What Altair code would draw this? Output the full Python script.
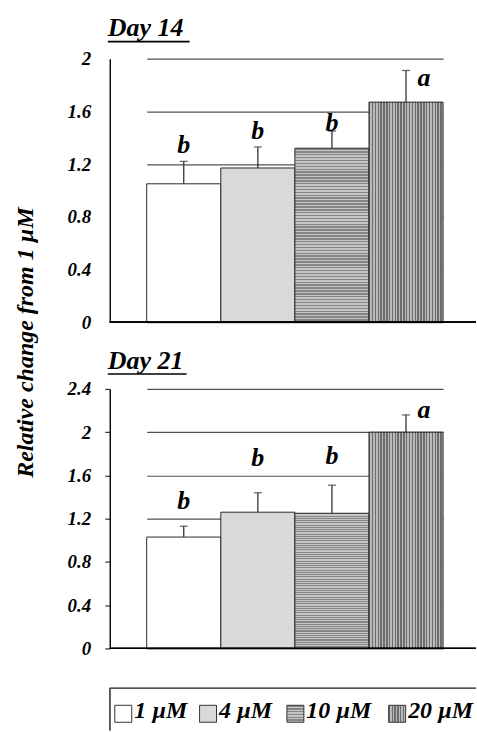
import altair as alt
import pandas as pd

# ---------------- data ----------------
concs = ["1 µM", "4 µM", "10 µM", "20 µM"]

day14_mean = [1.05, 1.17, 1.32, 1.67]
day14_upper = [1.22, 1.33, 1.45, 1.91]
day14_letter = ["b", "b", "b", "a"]
day14_letter_y = [1.28, 1.39, 1.45, 1.79]
day14_ticks = [0, 0.4, 0.8, 1.2, 1.6, 2.0]

day21_mean = [1.03, 1.26, 1.25, 2.00]
day21_upper = [1.13, 1.44, 1.51, 2.16]
day21_letter = ["b", "b", "b", "a"]
day21_letter_y = [1.29, 1.69, 1.71, 2.13]
day21_ticks = [0, 0.4, 0.8, 1.2, 1.6, 2.0, 2.4]

y_title = "Relative change from 1 µM"

# ---------------- styling ----------------
FONT = "Liberation Serif, Times New Roman, Times, DejaVu Serif, serif"
W = 367


def stripes(n, c1, c2, vertical_lines):
    stops = []
    for i in range(n):
        a, b, c = i / n, (i + 0.5) / n, (i + 1) / n
        stops += [alt.GradientStop(offset=a, color=c1), alt.GradientStop(offset=b, color=c1),
                  alt.GradientStop(offset=b, color=c2), alt.GradientStop(offset=c, color=c2)]
    if vertical_lines:
        return alt.LinearGradient(gradient="linear", stops=stops, x1=0, y1=0, x2=1, y2=0)
    return alt.LinearGradient(gradient="linear", stops=stops, x1=0, y1=0, x2=0, y2=1)


BAR_FILLS = ["white", "#d9d9d9",
             stripes(60, "#858585", "#c6c6c6", False),
             stripes(26, "#6c6c6c", "#bababa", True)]
LEG_FILLS = ["white", "#d9d9d9",
             stripes(6, "#858585", "#c6c6c6", False),
             stripes(6, "#6c6c6c", "#bababa", True)]


def panel(title, means, uppers, letters, letter_y, ymax, ticks, height,
          show_ytitle, show_ticks, title_dy, underline_dy, underline_len):
    df = pd.DataFrame({"conc": concs, "mean": means, "upper": uppers,
                       "letter": letters, "ly": letter_y})
    base = alt.Chart(df)
    xenc = alt.X("conc:N", sort=concs,
                 scale=alt.Scale(domain=concs, range=[37, 334], paddingInner=0, paddingOuter=0),
                 axis=None)
    common = dict(values=ticks, format="~g", grid=True, gridColor="#505050", gridWidth=1.2,
                  labelFont=FONT, labelFontSize=19, labelFontWeight="bold",
                  labelFontStyle="italic", labelColor="black",
                  domainColor="black", domainWidth=1.4)
    if show_ticks:
        common.update(ticks=True, tickSize=5, tickColor="#333333", tickWidth=1.2, labelPadding=14)
    else:
        common.update(ticks=False, labelPadding=19)
    if show_ytitle:
        axis = alt.Axis(title=y_title, titleFont=FONT, titleFontSize=24, titleFontWeight="bold",
                        titleFontStyle="italic", titleColor="black", titleAngle=270,
                        titleX=-84, titleY=284, titleAlign="center", titleBaseline="middle",
                        **common)
    else:
        axis = alt.Axis(title=None, **common)
    scale = alt.Scale(domain=[0, ymax], nice=False, zero=True)

    def yq(field):
        return alt.Y(field, type="quantitative", scale=scale, axis=axis)

    layers = []
    for c, f in zip(concs, BAR_FILLS):
        layers.append(base.transform_filter(alt.datum.conc == c)
                      .mark_bar(fill=f, stroke="#2a2a2a", strokeWidth=1)
                      .encode(x=xenc, y=yq("mean")))
    layers.append(base.mark_rule(color="#333333", strokeWidth=1.3)
                  .encode(x=xenc, y=yq("mean"), y2="upper:Q"))
    layers.append(base.mark_tick(color="#333333", size=8, thickness=1.3, orient="horizontal")
                  .encode(x=xenc, y=yq("upper")))
    layers.append(base.mark_rule(color="black", strokeWidth=1.4).encode(y=alt.datum(0)))
    txt = dict(font=FONT, fontSize=26, fontWeight="bold", fontStyle="italic",
               baseline="alphabetic", align="center", color="black")
    layers.append(base.transform_filter(alt.datum.letter == "b").mark_text(**txt)
                  .encode(x=xenc, y=yq("ly"), text="letter:N"))
    layers.append(base.transform_filter(alt.datum.letter == "a").mark_text(dx=18, **txt)
                  .encode(x=xenc, y=yq("ly"), text="letter:N"))
    tdf = pd.DataFrame({"t": [title]})
    layers.append(alt.Chart(tdf).mark_text(font=FONT, fontSize=26, fontWeight="bold",
                                           fontStyle="italic", align="left",
                                           baseline="alphabetic", color="black")
                  .encode(x=alt.value(-2), y=alt.value(title_dy), text="t:N"))
    layers.append(alt.Chart(tdf).mark_rule(color="black", strokeWidth=1.7)
                  .encode(x=alt.value(-2), x2=alt.value(underline_len), y=alt.value(underline_dy)))
    return alt.layer(*layers).properties(width=W, height=height)


top = panel("Day 14", day14_mean, day14_upper, day14_letter, day14_letter_y, 2.0,
            day14_ticks, 264, True, False, -23, -17, 80)
bottom = panel("Day 21", day21_mean, day21_upper, day21_letter, day21_letter_y, 2.4,
               day21_ticks, 260, False, True, -20, -15, 77)

# ---------------- legend (drawn above its own frame top) ----------------
leg_df = pd.DataFrame({"conc": concs, "idx": list(range(len(concs)))})
leg_base = alt.Chart(leg_df)
leg_x = alt.X("idx:Q", scale=alt.Scale(domain=[0, 1, 2, 3], range=[13.5, 98.5, 186, 288]),
              axis=None)
leg_layers = []
for c, f in zip(concs, LEG_FILLS):
    leg_layers.append(leg_base.transform_filter(alt.datum.conc == c)
                      .mark_square(size=289, fill=f, stroke="#333333", strokeWidth=1, opacity=1)
                      .encode(x=leg_x, y=alt.value(-1.5)))
leg_layers.append(leg_base.mark_text(font=FONT, fontSize=24, fontWeight="bold", fontStyle="italic",
                                     align="left", baseline="alphabetic", dx=11, color="black")
                  .encode(x=leg_x, y=alt.value(3), text="conc:N"))
leg_layers.append(leg_base.mark_rule(color="#555555", strokeWidth=1.3)
                  .encode(x=alt.value(0), x2=alt.value(W), y=alt.value(-27)))
leg_layers.append(leg_base.mark_rule(color="#555555", strokeWidth=1.3)
                  .encode(x=alt.value(0), y=alt.value(-27), y2=alt.value(15)))
legend = alt.layer(*leg_layers).properties(width=W, height=15)

chart = alt.vconcat(top, bottom, legend, spacing=67, bounds="flush").properties(
    padding={"left": 14, "top": 14, "right": 0, "bottom": 0},
    background="white",
).configure_view(stroke=None)

chart.save("out.html", embed_options={"renderer": "svg", "actions": False})
